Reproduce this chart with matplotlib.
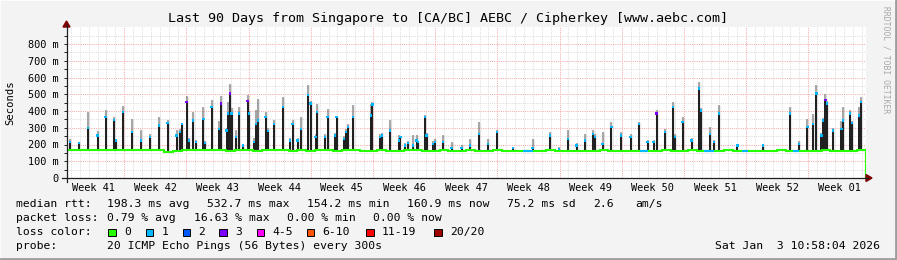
import numpy as np
import matplotlib
matplotlib.use("Agg")
import matplotlib.pyplot as plt
from matplotlib.patches import Polygon, Rectangle
from matplotlib.lines import Line2D

# valores: dia desde o início do período, rtt em ms
spike_day = [0.39, 1.41, 2.39, 3.51, 4.41, 5.35, 5.57, 6.39, 7.40, 8.38, 9.40, 10.41,
             11.39, 12.40, 12.77, 13.00, 13.53, 13.79, 14.27, 14.57, 15.40, 15.59, 16.34,
             17.16, 17.39, 18.03, 18.21, 18.40, 18.59, 19.07, 19.41, 19.86, 20.39, 20.54,
             21.10, 21.33, 21.58, 22.42, 22.68, 23.39, 24.40, 25.15, 25.46, 26.02, 26.39,
             27.21, 27.48, 28.04, 28.22, 29.09, 29.39, 30.22, 30.41, 31.26, 31.45, 31.71,
             32.28, 34.27, 34.44, 35.28, 35.51, 36.41, 37.42, 37.59, 38.09, 38.47, 39.03,
             39.41, 39.59, 40.34, 40.54, 41.28, 41.47, 42.40, 43.35, 44.47, 45.41, 46.45,
             47.47, 48.45, 50.25, 52.46, 54.41, 55.43, 56.47, 57.42, 58.35, 59.28, 59.48,
             60.34, 61.35, 62.40, 63.49, 64.46, 65.41, 66.08, 66.42, 67.35, 68.29, 68.48,
             69.35, 70.36, 71.18, 71.41, 72.42, 72.90, 73.43, 75.53, 78.41, 81.42, 82.47,
             83.41, 84.04, 84.42, 84.99, 85.19, 85.44, 85.58, 86.29, 87.24, 87.42, 88.18,
             88.40, 89.19, 89.42]
spike_med = [215, 208, 298, 254, 364, 348, 224, 394, 274, 224, 244, 314,
             328, 254, 274, 324, 454, 224, 344, 215, 354, 210, 424,
             294, 444, 284, 384, 504, 384, 244, 384, 194, 460, 384,
             214, 324, 344, 364, 280, 324, 424, 224, 324, 224, 294,
             494, 444, 244, 394, 244, 364, 254, 364, 234, 274, 304,
             364, 374, 440, 244, 254, 284, 224, 244, 194, 210, 194,
             224, 214, 364, 254, 204, 214, 214, 180, 180, 194, 264,
             204, 274, 180, 180, 254, 174, 234, 194, 224, 264, 244,
             204, 304, 254, 244, 324, 214, 214, 384, 274, 424, 244,
             334, 224, 534, 404, 264, 214, 384, 194, 194, 384, 204,
             304, 324, 504, 254, 344, 464, 444, 284, 294, 344, 384,
             330, 374, 454]
spike_top = [230, 215, 394, 278, 404, 364, 230, 428, 354, 284, 264, 364,
             344, 284, 290, 330, 488, 240, 394, 225, 424, 220, 468,
             340, 488, 300, 454, 564, 420, 284, 424, 200, 494, 400,
             240, 404, 474, 394, 300, 344, 484, 240, 344, 240, 364,
             554, 460, 260, 444, 260, 414, 270, 364, 250, 290, 320,
             434, 444, 454, 260, 270, 348, 254, 250, 210, 220, 254,
             254, 220, 374, 270, 220, 230, 254, 214, 200, 234, 334,
             234, 284, 185, 234, 274, 188, 284, 210, 264, 288, 260,
             274, 334, 274, 260, 334, 224, 224, 404, 290, 454, 260,
             364, 240, 574, 420, 304, 224, 434, 200, 200, 424, 220,
             354, 384, 554, 270, 360, 504, 460, 300, 340, 424, 404,
             340, 424, 484]
loss3_days = [13.53, 17.39, 18.40, 20.39, 66.42, 85.44]

base_rtt = [168, 167, 169, 166, 168, 170, 167, 166, 165, 167, 168, 158, 162, 166, 167,
            165, 168, 166, 164, 165, 166, 163, 165, 167, 166, 164, 165, 163, 166, 165,
            164, 166, 165, 163, 164, 165, 163, 164, 166, 165, 164, 163, 165, 164, 163,
            165, 164, 163, 165, 164, 163, 162, 163, 164, 165, 163, 164, 162, 163, 164,
            165, 163, 164, 162, 160, 163, 164, 165, 163, 164, 165, 163, 162, 164, 165,
            163, 162, 164, 163, 164, 165, 163, 162, 164, 163, 165, 164, 163, 164, 165]
loss1_days = [51.7, 52.2, 64.9, 65.2, 72.1, 72.6, 76.4, 82.1]

week_labels = ['Week 41', 'Week 42', 'Week 43', 'Week 44', 'Week 45', 'Week 46', 'Week 47',
               'Week 48', 'Week 49', 'Week 50', 'Week 51', 'Week 52', 'Week 01']
y_values = [0, 100, 200, 300, 400, 500, 600, 700, 800]
y_labels = ['0', '100 m', '200 m', '300 m', '400 m', '500 m', '600 m', '700 m', '800 m']

loss_names = ['0', '1', '2', '3', '4-5', '6-10', '11-19', '20/20']
loss_colors = ['#26ff00', '#00b8ff', '#0059ff', '#7e00ff', '#ff00ff', '#ff5500', '#ff0000', '#a10000']

W, H = 897, 260
mono = 'DejaVu Sans Mono'

def fx(x):
    return x / W

def fy(y):
    return 1 - y / H

fig = plt.figure(figsize=(W / 100, H / 100), dpi=100)
fig.patch.set_facecolor('#f3f3f3')

ax = fig.add_axes([fx(66.5), fy(178), (866 - 66.5) / W, (178 - 27.25) / H])
ax.set_facecolor('white')
ax.set_xlim(0, 90)
ax.set_ylim(0, 900)
for s in ax.spines.values():
    s.set_visible(False)

# grade
minor_c = '#dcdcdc'
major_c = '#f7a8a8'
for d in range(90):
    g = d + 0.5
    c = major_c if (g - 6.5) % 7 == 0 else minor_c
    ax.axvline(g, color=c, lw=0.72, ls=(0, (1, 1.2)), zorder=1)
for v in range(50, 900, 50):
    c = major_c if v % 100 == 0 else minor_c
    ax.axhline(v, color=c, lw=0.72, ls=(0, (1, 1.2)), zorder=1)

# fumaça e picos
base_at = [base_rtt[int(d)] for d in spike_day]
ax.vlines(spike_day, base_at, spike_top, colors='#a0a0a0', lw=2.4, alpha=0.22, zorder=2)
ax.vlines(spike_day, spike_med, spike_top, colors='#707070', lw=1.3, alpha=0.6, zorder=3)
ax.vlines(spike_day, base_at, spike_med, colors='#1c1c1c', lw=1.4, zorder=4)

# mediana
ax.stairs(base_rtt, np.arange(len(base_rtt) + 1), color=loss_colors[0], lw=1.5, zorder=5)
for d in loss1_days:
    ax.plot([d - 0.2, d + 0.2], [base_rtt[int(d)]] * 2, color=loss_colors[1], lw=1.5, zorder=6)
peak_cols = [loss_colors[3] if d in loss3_days else loss_colors[1] for d in spike_day]
ax.scatter(spike_day, spike_med, marker='s', s=3, c=peak_cols, linewidths=0, zorder=7)

# eixos
ax.set_xticks([3 + 7 * k for k in range(len(week_labels))])
ax.set_xticklabels(week_labels, fontsize=7.4, family=mono)
ax.tick_params(axis='x', length=0, pad=3.5)
ax.set_yticks(y_values)
ax.set_yticklabels(y_labels, fontsize=7.4, family=mono)
ax.set_yticks(range(50, 900, 100), minor=True)
ax.tick_params(axis='y', which='both', length=2, width=0.7, color='#202020', pad=4)

fig.add_artist(Line2D([fx(62), fx(868)], [fy(178), fy(178)], color='#202020', lw=0.9))
fig.add_artist(Line2D([fx(66.5), fx(66.5)], [fy(182), fy(25)], color='#202020', lw=0.9))
fig.add_artist(Polygon([[fx(866), fy(174.5)], [fx(866), fy(181.5)], [fx(872), fy(178)]],
                       closed=True, color='#7f0000'))
fig.add_artist(Polygon([[fx(63), fy(27)], [fx(70), fy(27)], [fx(66.5), fy(21)]],
                       closed=True, color='#7f0000'))

fig.text(fx(448), fy(18.5), 'Last 90 Days from Singapore to [CA/BC] AEBC / Cipherkey [www.aebc.com]',
         ha='center', va='center', fontsize=9.6, family=mono)
fig.text(fx(10), fy(102.5), 'Seconds', rotation=90, ha='center', va='center', fontsize=7.6, family=mono)
fig.text(fx(886), fy(60), 'RRDTOOL / TOBI OETIKER', rotation=270, ha='center', va='center',
         fontsize=5.8, family=mono, color='#a8a8a8')

# legenda
fs = 8.2
rows = [
    (204.3, [(16, 'median rtt:'), (107.3, '198.3 ms avg'), (207.3, '532.7 ms max'),
             (307.3, '154.2 ms min'), (406.5, '160.9 ms now'), (506.7, '75.2 ms sd'),
             (593, '2.6'), (635, 'am/s')]),
    (218.3, [(16, 'packet loss:'), (107.3, '0.79 % avg'), (194, '16.63 % max'),
             (287, '0.00 % min'), (373, '0.00 % now')]),
    (232.3, [(16, 'loss color:')]),
    (246.3, [(16, 'probe:'), (107.3, '20 ICMP Echo Pings (56 Bytes) every 300s')]),
]
for y, parts in rows:
    for x, t in parts:
        fig.text(fx(x), fy(y), t, ha='left', va='center', fontsize=fs, family=mono)

box_x = [108.3, 145.7, 182.7, 219.3, 256.7, 306.7, 366, 434.3]
for bx, name, col in zip(box_x, loss_names, loss_colors):
    fig.add_artist(Rectangle((fx(bx), fy(236)), 7.5 / W, 7.5 / H, facecolor=col,
                             edgecolor='black', lw=0.7))
    fig.text(fx(bx + 15.5), fy(232.3), name, ha='left', va='center', fontsize=fs, family=mono)

fig.text(fx(880), fy(246.3), 'Sat Jan  3 10:58:04 2026', ha='right', va='center',
         fontsize=fs, family=mono)

# moldura
fig.add_artist(Rectangle((0, 0), 1, 1, fill=False, edgecolor='#fcfcfc', lw=1.5))
fig.add_artist(Line2D([0, 1], [fy(258.8), fy(258.8)], color='#9e9e9e', lw=2))
fig.add_artist(Line2D([fx(895.8), fx(895.8)], [0, 1], color='#9e9e9e', lw=2))

fig.savefig('out.png', dpi=100, facecolor=fig.get_facecolor())
